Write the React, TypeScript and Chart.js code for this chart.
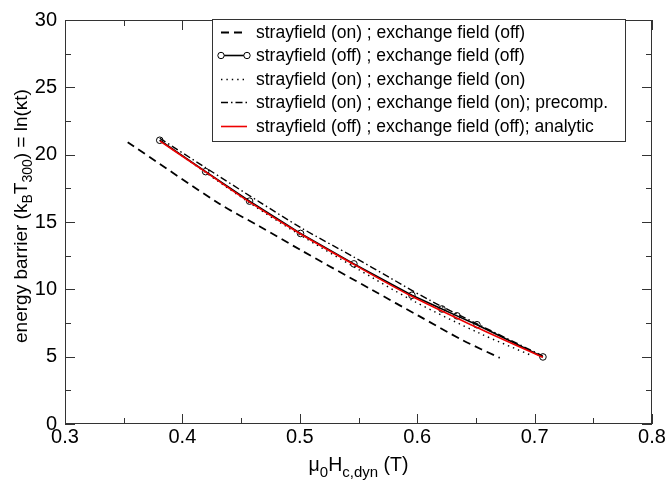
import React, { useEffect, useRef } from "react";
import { Chart, registerables } from "chart.js";

Chart.register(...registerables);

// Series data
const labels = [
  "strayfield (on) ; exchange field (off)",
  "strayfield (off) ; exchange field (off)",
  "strayfield (on) ; exchange field (on)",
  "strayfield (on) ; exchange field (on); precomp.",
  "strayfield (off) ; exchange field (off); analytic",
];

const xOnOff = [0.3534, 0.4318, 0.4659, 0.5007, 0.5621, 0.6021, 0.6388, 0.6703];
const yOnOff = [20.93, 16.34, 14.67, 12.92, 9.93, 7.99, 6.22, 4.91];

const xOffOff = [0.3807, 0.4198, 0.4572, 0.5006, 0.5461, 0.5955, 0.6211, 0.6339, 0.6509, 0.7071];
const yOffOff = [21.07, 18.74, 16.55, 14.15, 11.89, 9.56, 8.54, 8.03, 7.37, 4.98];

const xOnOn = [0.3807, 0.4573, 0.5008, 0.546, 0.5954, 0.6533, 0.6984];
const yOnOn = [21.07, 16.41, 14.01, 11.68, 9.2, 6.73, 5.05];

const xPrecomp = [0.3807, 0.4198, 0.4658, 0.5007, 0.5459, 0.5766, 0.6107, 0.6507, 0.7069];
const yPrecomp = [21.22, 19.03, 16.48, 14.59, 12.4, 10.87, 9.19, 7.45, 5.05];

const xAnalytic = [0.381, 0.42, 0.457, 0.5, 0.546, 0.595, 0.65, 0.707];
const yAnalytic = [21.0, 18.7, 16.5, 14.15, 11.85, 9.5, 7.2, 4.95];

const xTicks = [0.3, 0.4, 0.5, 0.6, 0.7, 0.8];
const yTicks = [0, 5, 10, 15, 20, 25, 30];

const FONT = "'Liberation Sans', Arial, Helvetica, sans-serif";

function pts(xs: number[], ys: number[]) {
  return xs.map((x, i) => ({ x, y: ys[i] }));
}

const decorPlugin = {
  id: "decor",
  afterDatasetsDraw(chart: any) {
    const ctx = chart.ctx as CanvasRenderingContext2D;
    const ca = chart.chartArea;
    const xs = chart.scales.x;
    const ys = chart.scales.y;
    ctx.save();
    // frame
    ctx.strokeStyle = "#333";
    ctx.lineWidth = 1;
    ctx.strokeRect(ca.left + 0.5, ca.top + 0.5, ca.right - ca.left - 1, ca.bottom - ca.top - 1);
    // ticks
    ctx.beginPath();
    for (let i = 0; i <= 10; i++) {
      const v = xTicks[0] + i * 0.05;
      const len = i % 2 === 0 ? 10 : 6;
      const px = Math.round(xs.getPixelForValue(v)) + 0.5;
      ctx.moveTo(px, ca.bottom);
      ctx.lineTo(px, ca.bottom - len);
      ctx.moveTo(px, ca.top);
      ctx.lineTo(px, ca.top + len);
    }
    for (let i = 0; i <= 12; i++) {
      const v = i * 2.5;
      const len = i % 2 === 0 ? 10 : 6;
      const py = Math.round(ys.getPixelForValue(v)) + 0.5;
      ctx.moveTo(ca.left, py);
      ctx.lineTo(ca.left + len, py);
      ctx.moveTo(ca.right, py);
      ctx.lineTo(ca.right - len, py);
    }
    ctx.stroke();

    // legend
    const bx = 212, by = 19, bw = 413, bh = 122;
    ctx.fillStyle = "#fff";
    ctx.fillRect(bx, by, bw, bh);
    ctx.strokeStyle = "#333";
    ctx.strokeRect(bx + 0.5, by + 0.5, bw, bh);
    const ds = chart.data.datasets;
    const rowY = [32, 55, 79, 102, 126];
    ctx.font = `17.5px ${FONT}`;
    ctx.textBaseline = "middle";
    ctx.textAlign = "left";
    for (let i = 0; i < ds.length; i++) {
      const d = ds[i];
      const y = rowY[i] + 0.5;
      ctx.strokeStyle = d.borderColor;
      ctx.lineWidth = d.borderWidth;
      ctx.setLineDash(d.borderDash || []);
      ctx.beginPath();
      ctx.moveTo(221, y);
      ctx.lineTo(247, y);
      ctx.stroke();
      ctx.setLineDash([]);
      if (d.pointRadius > 0) {
        ctx.lineWidth = 1;
        for (const cx of [221, 247]) {
          ctx.beginPath();
          ctx.arc(cx, y, 3.2, 0, Math.PI * 2);
          ctx.fillStyle = "#fff";
          ctx.fill();
          ctx.stroke();
        }
      }
      ctx.fillStyle = "#000";
      ctx.fillText(d.label, 256, rowY[i] + 1);
    }

    // axis titles with subscripts
    const drawRich = (parts: [string, boolean][], size: number, subSize: number, subDy: number) => {
      let total = 0;
      for (const [t, sub] of parts) {
        ctx.font = `${sub ? subSize : size}px ${FONT}`;
        total += ctx.measureText(t).width;
      }
      let x = -total / 2;
      for (const [t, sub] of parts) {
        ctx.font = `${sub ? subSize : size}px ${FONT}`;
        ctx.fillText(t, x, sub ? subDy : 0);
        x += ctx.measureText(t).width;
      }
    };
    ctx.fillStyle = "#000";
    ctx.textBaseline = "alphabetic";
    ctx.save();
    ctx.translate((ca.left + ca.right) / 2, 471);
    drawRich(
      [["\u03bc", false], ["0", true], ["H", false], ["c,dyn", true], [" (T)", false]],
      19.5, 15, 6
    );
    ctx.restore();
    ctx.save();
    ctx.translate(27, (ca.top + ca.bottom) / 2 - 6);
    ctx.rotate(-Math.PI / 2);
    drawRich(
      [["energy barrier (k", false], ["B", true], ["T", false], ["300", true], [") = ln(\u03bat)", false]],
      19, 14, 5
    );
    ctx.restore();
    ctx.restore();
  },
};

export default function App() {
  const ref = useRef<HTMLCanvasElement>(null);
  useEffect(() => {
    if (!ref.current) return;
    const chart = new Chart(ref.current, {
      type: "line",
      data: {
        datasets: [
          {
            label: labels[0],
            data: pts(xOnOff, yOnOff),
            borderColor: "#000",
            borderWidth: 1.8,
            borderDash: [8, 5],
            pointRadius: 0,
            tension: 0.3,
            order: 4,
          },
          {
            label: labels[1],
            data: pts(xOffOff, yOffOff),
            borderColor: "#000",
            borderWidth: 1.6,
            pointRadius: 3.3,
            pointBorderWidth: 1,
            pointBorderColor: "#000",
            pointBackgroundColor: "rgba(255,255,255,0)",
            pointStyle: "circle",
            order: 1,
          },
          {
            label: labels[2],
            data: pts(xOnOn, yOnOn),
            borderColor: "#000",
            borderWidth: 1.4,
            borderDash: [1.4, 4],
            pointRadius: 0,
            tension: 0.3,
            order: 3,
          },
          {
            label: labels[3],
            data: pts(xPrecomp, yPrecomp),
            borderColor: "#000",
            borderWidth: 1.4,
            borderDash: [7, 3, 1.5, 3],
            pointRadius: 0,
            tension: 0.3,
            order: 2,
          },
          {
            label: labels[4],
            data: pts(xAnalytic, yAnalytic),
            borderColor: "#ee0000",
            borderWidth: 1.6,
            pointRadius: 0,
            cubicInterpolationMode: "monotone",
            order: 0,
          },
        ],
      } as any,
      options: {
        animation: false,
        responsive: false,
        maintainAspectRatio: false,
        layout: { padding: { top: 12, right: 16, left: 0, bottom: 0 } },
        plugins: { legend: { display: false }, tooltip: { enabled: false } },
        scales: {
          x: {
            type: "linear",
            min: 0.3,
            max: 0.8,
            afterBuildTicks: (s: any) => {
              s.ticks = xTicks.map((v) => ({ value: v }));
            },
            afterFit: (s: any) => {
              s.height = 56;
            },
            grid: { display: false, drawTicks: false },
            border: { display: false },
            ticks: {
              padding: 1,
              color: "#000",
              font: { family: FONT, size: 20 },
              maxRotation: 0,
              callback: (v: any) => Number(v).toFixed(1),
            },
          },
          y: {
            type: "linear",
            min: 0,
            max: 30,
            afterBuildTicks: (s: any) => {
              s.ticks = yTicks.map((v) => ({ value: v }));
            },
            afterFit: (s: any) => {
              s.width = 65;
            },
            grid: { display: false, drawTicks: false },
            border: { display: false },
            ticks: {
              padding: 8,
              color: "#000",
              font: { family: FONT, size: 20 },
              callback: (v: any) => String(v),
            },
          },
        },
      } as any,
      plugins: [decorPlugin],
    });
    return () => chart.destroy();
  }, []);
  return (
    <div style={{ position: "fixed", left: 0, top: 0, width: 668, height: 480, background: "#fff" }}>
      <canvas ref={ref} width={668} height={480} style={{ width: 668, height: 480 }} />
    </div>
  );
}
